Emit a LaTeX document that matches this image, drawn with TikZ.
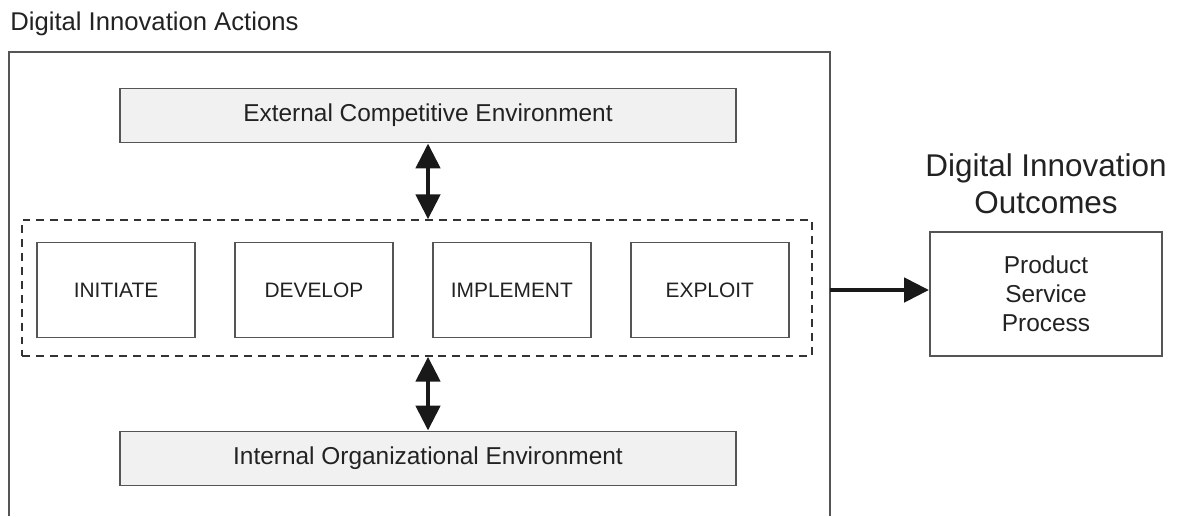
\documentclass[tikz,border=0pt]{standalone}
\usepackage{fontspec}
\setmainfont{Liberation Sans}
\usepackage{tikz}
\usetikzlibrary{arrows.meta, positioning}

\definecolor{frameline}{HTML}{555555}
\definecolor{envfill}{HTML}{F0F1F0}
\definecolor{inktext}{HTML}{222222}

\begin{document}
\begin{tikzpicture}[
        env/.style={rectangle, minimum width=12.32cm, minimum height=1.08cm, text centered, draw=frameline, line width=1.1pt, fill=envfill, text=inktext, font=\fontsize{13.9}{16}\selectfont},
        phase/.style={rectangle, minimum width=3.16cm, minimum height=1.9cm, text centered, draw=frameline, line width=1.1pt, fill=white, text=inktext, font=\fontsize{11.9}{14}\selectfont},
        outcome/.style={rectangle, minimum width=4.64cm, minimum height=2.48cm, align=center, draw=frameline, line width=1.1pt, text=inktext, font=\fontsize{13.9}{16.4}\selectfont},
        % thick two-headed arrows
        bigarrow/.style={line width=2.8pt, color=black!90, -{Triangle[length=0.5cm, width=0.48cm]}}
    ]
        \useasboundingbox (0,0) rectangle (23.56,10.32);

        % Title and frame (open at the bottom)
        \node (title) [anchor=base west, inner sep=0, text=inktext, font=\fontsize{14.6}{17}\selectfont] at (0.2,9.72) {Digital Innovation Actions};
        \draw[frameline, line width=1.1pt] (0.18,0) -- (0.18,9.28) -- (16.6,9.28) -- (16.6,0);
        \coordinate (frame-e) at (16.6,4.52);

        % Environments
        \node (ext) [env] at (8.56,8.01) {External Competitive Environment};
        \node (int) [env] at (8.56,1.15) {Internal Organizational Environment};

        % Dashed group with the four phases
        \node (group) [draw=black!80, line width=0.8pt, dash pattern=on 4.5pt off 3.4pt, minimum width=15.8cm, minimum height=2.72cm] at (8.34,4.56) {};
        \node (p1) [phase] at (2.32,4.52) {INITIATE};
        \node (p2) [phase, right=0.76cm of p1] {DEVELOP};
        \node (p3) [phase, right=0.76cm of p2] {IMPLEMENT};
        \node (p4) [phase, right=0.76cm of p3] {EXPLOIT};

        % Links between environments and actions
        \draw[bigarrow, {Triangle[length=0.5cm, width=0.48cm]}-{Triangle[length=0.5cm, width=0.48cm]}] (ext.south) -- (ext.south |- group.north);
        \draw[bigarrow, {Triangle[length=0.5cm, width=0.48cm]}-{Triangle[length=0.5cm, width=0.48cm]}] (int.north |- group.south) -- (int.north);

        % Outcomes
        \node (prod) [outcome] at (20.92,4.44) {Product\\Service\\Process};
        \node (otitle) [above=0.34cm of prod, inner sep=0, align=center, text=inktext, font=\fontsize{17.9}{21}\selectfont] {Digital Innovation\\Outcomes};
        \draw[bigarrow] (frame-e) -- (prod.west |- frame-e);

    \end{tikzpicture}
\end{document}
